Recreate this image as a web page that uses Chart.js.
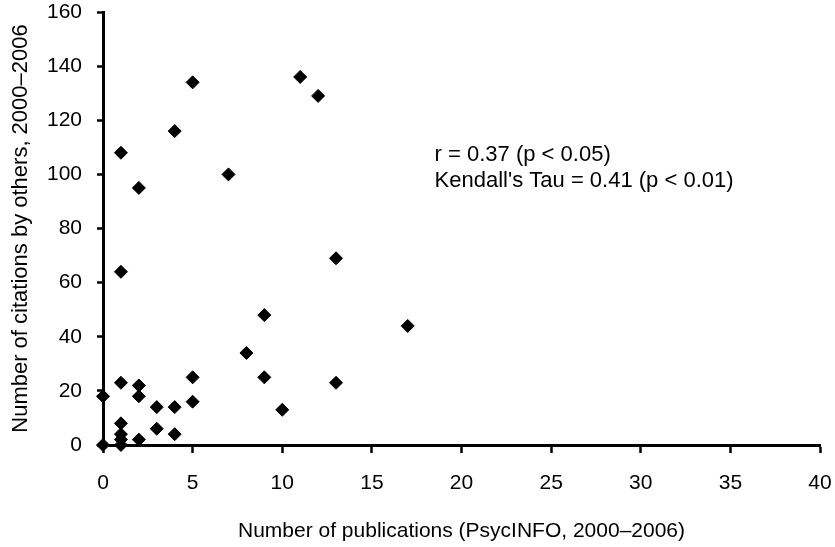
<!DOCTYPE html>
<html>
<head>
<meta charset="utf-8">
<script src="https://cdn.jsdelivr.net/npm/chart.js@4.4.1/dist/chart.umd.min.js"></script>
<style>
  html, body { margin: 0; padding: 0; background: #fff; }
  #wrap { width: 835px; height: 547px; }
</style>
</head>
<body>
<div id="wrap"><canvas id="scatterCitations" width="835" height="547"></canvas></div>
<script>
// publications (x) and citations by others (y), one entry per author
var publications = [0, 0, 1, 1, 1, 1, 1, 1, 1, 2, 2, 2, 2, 3, 3, 4, 4, 4, 5, 5, 5, 7, 8, 9, 9, 10, 11, 12, 13, 13, 17]
var citations = [0, 18, 108, 64, 23, 8, 4, 2, 0, 95, 22, 18, 2, 14, 6, 116, 14, 4, 134, 25, 16, 100, 34, 48, 25, 13, 136, 129, 69, 23, 44]
var xTickValues = [0, 5, 10, 15, 20, 25, 30, 35, 40]
var yTickValues = [0, 20, 40, 60, 80, 100, 120, 140, 160]
var statLines = ['r = 0.37 (p < 0.05)', "Kendall's Tau = 0.41 (p < 0.01)"]
var statAnchor = [18.5, 107]

function loadCitationsScatter() {
    var ctx = document.getElementById('scatterCitations').getContext('2d')
    Chart.defaults.font.family = '"Liberation Sans", Arial, sans-serif'
    Chart.defaults.font.size = 21
    Chart.defaults.color = '#000'

    var points = publications.map(function (p, i) {
        return { x: p, y: citations[i] }
    })

    // writes the correlation text onto the plot
    var statsText = {
        id: 'statsText',
        afterDatasetsDraw: function (chart) {
            var c = chart.ctx
            var px = chart.scales.x.getPixelForValue(statAnchor[0])
            var py = chart.scales.y.getPixelForValue(statAnchor[1])
            c.save()
            c.fillStyle = '#000'
            c.font = '22px "Liberation Sans", Arial, sans-serif'
            c.textAlign = 'left'
            c.textBaseline = 'middle'
            statLines.forEach(function (line, i) {
                c.fillText(line, px, py + i * 26)
            })
            c.restore()
        }
    }

    new Chart(ctx, {
        type: 'scatter',
        data: {
            datasets: [{
                data: points,
                pointStyle: 'rectRot',
                pointRadius: 6.5,
                pointHoverRadius: 6.5,
                backgroundColor: '#000',
                borderColor: '#000',
                borderWidth: 1,
                clip: false
            }]
        },
        options: {
            responsive: false,
            animation: false,
            events: [],
            layout: { padding: 0 },
            plugins: {
                legend: { display: false },
                tooltip: { enabled: false }
            },
            scales: {
                x: {
                    type: 'linear',
                    min: 0,
                    max: 40,
                    afterBuildTicks: function (axis) {
                        axis.ticks = xTickValues.map(function (v) { return { value: v } })
                    },
                    afterFit: function (axis) {
                        axis.height = 102
                        axis.paddingLeft = 0
                        axis.paddingRight = 15
                    },
                    border: { display: true, color: '#000', width: 3 },
                    grid: { drawOnChartArea: false, drawTicks: true, tickLength: 8, tickColor: '#000', tickWidth: 2.5 },
                    ticks: { padding: 18, maxRotation: 0 },
                    title: {
                        display: true,
                        text: 'Number of publications (PsycINFO, 2000\u20132006)',
                        padding: { top: 0, bottom: 3 }
                    }
                },
                y: {
                    type: 'linear',
                    min: 0,
                    max: 160,
                    afterBuildTicks: function (axis) {
                        axis.ticks = yTickValues.map(function (v) { return { value: v } })
                    },
                    afterFit: function (axis) {
                        axis.width = 103
                        axis.paddingTop = 12
                        axis.paddingBottom = 0
                    },
                    border: { display: true, color: '#000', width: 3 },
                    grid: { drawOnChartArea: false, drawTicks: true, tickLength: 6, tickColor: '#000', tickWidth: 2.5 },
                    ticks: { padding: 15 },
                    title: {
                        display: true,
                        text: 'Number of citations by others, 2000\u20132006',
                        font: { size: 22 },
                        padding: { top: 8, bottom: 0 }
                    }
                }
            }
        },
        plugins: [statsText]
    })
}

loadCitationsScatter()
</script>
</body>
</html>
